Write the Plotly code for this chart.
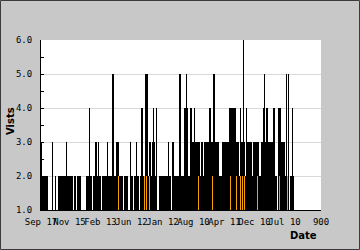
import plotly.graph_objects as go

# ---- data (one value per day) ----
visits = [
    3, 2, 2, 2, 2, 2, 2, 1, 1, 1, 1, 3, 1, 1, 2, 1, 1,
    2, 2, 2, 2, 2, 2, 2, 2, 3, 2, 2, 2, 2, 2, 2,
    1, 2, 2, 1, 2, 2, 2, 2, 1, 1, 1, 1, 1,
    2, 2, 2, 4, 2, 2, 1,
    2, 2, 3, 3, 2, 3, 2, 2, 1,
    2, 2, 2, 2, 2, 3, 2, 2, 2, 2, 5, 5, 2, 2, 3, 3, 3, 2,
    2, 2, 2, 1, 2, 2, 2, 2, 1, 1, 3, 2, 2, 1,
    2, 2, 3, 2, 2, 1, 2, 4, 4, 2, 2, 5, 5, 5, 2, 3, 3, 2, 3, 4, 3, 2, 4,
    1, 1, 2, 2, 2, 2, 2, 2, 2,
    2, 2, 3, 2, 2, 1, 3, 3, 2, 2,
    2, 2, 2, 5, 5, 2, 2, 2, 4, 4,
    5, 4, 2, 2, 4, 4, 3, 3, 4, 3,
    3, 3, 3, 3, 2, 3, 3, 2, 3, 3,
    3, 3, 3, 4, 4, 3, 3, 5, 5, 3,
    3, 3, 3, 2, 2, 2, 3, 3, 3, 3,
    3, 3, 3, 4, 4, 4, 4, 4, 4, 4,
    3, 3, 3, 2, 4, 3, 3, 6, 3, 2,
    4, 3, 3, 3, 3, 3, 2, 3, 3, 3,
    3, 3, 3, 2, 2, 3, 3, 4, 5, 3,
    4, 4, 3, 3, 3, 3, 3, 4, 4, 2,
    2, 1, 4, 4, 4, 3, 3, 3, 3, 2,
    5, 2, 5, 1, 2, 2, 4, 2,
]
days = list(range(len(visits)))

highlight_days = [77, 103, 105, 108, 157, 171, 189, 195, 199, 201, 203, 216, 238, 246]
highlight_values = [2, 2, 2, 2, 2, 2, 2, 2, 2, 2, 2, 2, 2, 2]

tick_positions = [-0.5, 28, 59, 90, 121, 152, 183, 213, 243, 279.5]
tick_labels = ["Sep 17", "Nov 15", "Feb 13", "Jun 12", "Jan 12",
               "Aug 10", "Apr 11", "Dec 10", "Jul 10", "900"]

# ---- figure ----
W, H = 360, 250
L, R, T, B = 41, 39, 40, 40
pw, ph = W - L - R, H - T - B

fig = go.Figure()
fig.add_bar(x=days, y=visits, width=1,
            marker=dict(color="black", line=dict(width=0)))
fig.add_bar(x=highlight_days, y=highlight_values, width=0.9,
            marker=dict(color="#f5a000", line=dict(width=0)))

mono = dict(family="DejaVu Sans Mono", size=9, color="black")

fig.update_layout(
    width=W, height=H,
    margin=dict(l=L, r=R, t=T, b=B, pad=0),
    paper_bgcolor="#c8c8c8",
    plot_bgcolor="white",
    barmode="overlay",
    bargap=0,
    showlegend=False,
    xaxis=dict(
        range=[-0.5, 279.5],
        showline=True, linecolor="black", linewidth=1,
        ticks="inside", ticklen=4, tickcolor="black",
        tickvals=tick_positions, ticktext=tick_labels,
        tickangle=0,
        tickfont=mono, showgrid=False, zeroline=False,
        ticklabelstandoff=3,
    ),
    yaxis=dict(
        range=[1, 6],
        showline=True, linecolor="black", linewidth=1,
        ticks="inside", ticklen=3, tickcolor="black",
        tick0=1, dtick=1, tickformat=".1f",
        tickfont=mono,
        showgrid=True, gridcolor="#d9d9d9", gridwidth=1,
        zeroline=False,
        minor=dict(ticks="inside", dtick=0.5, ticklen=3, tickcolor="black", showgrid=False),
        ticklabelstandoff=6,
    ),
    annotations=[
        dict(text="<b>Vists</b>", xref="paper", yref="paper",
             x=(10 - L) / pw, y=(T + ph - 121) / ph,
             xanchor="center", yanchor="middle", textangle=-90, showarrow=False,
             font=dict(family="DejaVu Sans", size=10, color="black")),
        dict(text="<b>Date</b>", xref="paper", yref="paper",
             x=(318.5 - L) / pw, y=(T + ph - 236) / ph,
             xanchor="right", yanchor="middle", showarrow=False,
             font=dict(family="DejaVu Sans", size=10, color="black")),
    ],
    shapes=[
        dict(type="rect", xref="paper", yref="paper",
             x0=(0.5 - L) / pw, x1=(W - 0.5 - L) / pw,
             y0=-(B - 0.5) / ph, y1=1 + (T - 0.5) / ph,
             line=dict(color="#3a3a3a", width=1), layer="below"),
    ],
)

fig.write_html("out.html")
